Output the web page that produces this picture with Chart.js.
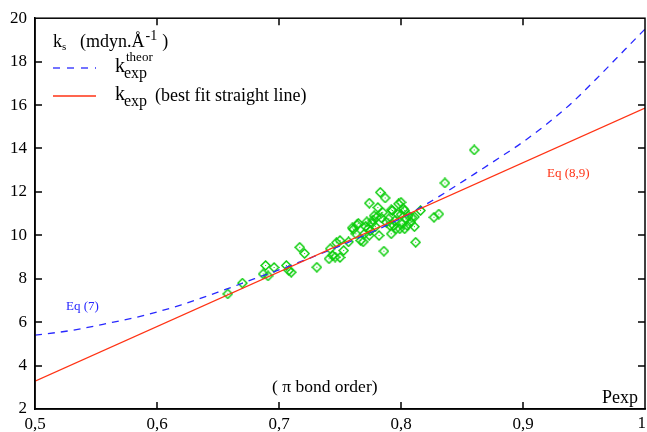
<!DOCTYPE html>
<html>
<head>
<meta charset="utf-8">
<script src="https://cdn.jsdelivr.net/npm/chart.js@4.4.1/dist/chart.umd.min.js"></script>
<style>
html, body { margin: 0; padding: 0; background: #fff; }
#wrap { width: 647px; height: 432px; }
</style>
</head>
<body>
<div id="wrap"><canvas id="chart" width="647" height="432"></canvas></div>
<script>
// experimental points: pi bond order (Pexp) vs force constant ks
const expP = [0.658, 0.670, 0.687, 0.689, 0.691, 0.696, 0.706, 0.708, 0.710, 0.717,
              0.721, 0.731, 0.741, 0.742, 0.744, 0.746, 0.747, 0.750, 0.750, 0.753,
              0.757, 0.760, 0.761, 0.763, 0.764, 0.765, 0.767, 0.769, 0.770, 0.771,
              0.772, 0.773, 0.774, 0.774, 0.775, 0.776, 0.777, 0.778, 0.779, 0.780,
              0.781, 0.782, 0.783, 0.784, 0.785, 0.786, 0.787, 0.788, 0.790, 0.791,
              0.792, 0.792, 0.793, 0.794, 0.795, 0.796, 0.797, 0.798, 0.799, 0.800,
              0.800, 0.801, 0.802, 0.803, 0.803, 0.804, 0.805, 0.806, 0.808, 0.809,
              0.811, 0.811, 0.812, 0.816, 0.827, 0.831, 0.836, 0.860];
const expK = [7.30, 7.80, 8.22, 8.61, 8.13, 8.52, 8.61, 8.38, 8.30, 9.45,
              9.16, 8.53, 8.92, 9.38, 9.07, 9.00, 9.66, 9.76, 8.98, 9.30,
              9.70, 10.34, 10.28, 10.07, 10.48, 10.55, 9.76, 9.70, 10.07, 10.40,
              10.62, 10.30, 11.48, 10.00, 10.22, 10.55, 10.70, 10.90, 10.40, 10.83,
              11.28, 9.99, 11.98, 10.80, 11.06, 9.27, 11.72, 10.60, 10.76, 10.45,
              10.07, 11.17, 11.14, 10.45, 10.68, 10.30, 10.99, 11.45, 10.30, 11.52,
              10.95, 10.53, 11.22, 10.30, 11.14, 10.75, 10.45, 10.90, 10.60, 10.83,
              10.85, 10.40, 9.68, 11.14, 10.83, 10.98, 12.41, 13.93];

// theoretical curve, Eq (7)
const theorP = [0.50, 0.53, 0.56, 0.59, 0.62, 0.65, 0.68, 0.71, 0.74, 0.77,
                0.80, 0.83, 0.86, 0.88, 0.90, 0.92, 0.94, 0.96, 0.98, 1.00];
const theorK = [5.40, 5.62, 5.95, 6.32, 6.80, 7.38, 8.00, 8.62, 9.28, 10.00,
                10.78, 11.75, 12.82, 13.55, 14.30, 15.15, 16.10, 17.20, 18.35, 19.50];

// best fit straight line, Eq (8,9)
const fitP = [0.5, 1.0];
const fitK = [3.28, 15.86];

const xTicks = [0.5, 0.6, 0.7, 0.8, 0.9, 1.0];
const yTicks = [2, 4, 6, 8, 10, 12, 14, 16, 18, 20];

const SERIF = '"Liberation Serif", "DejaVu Serif", serif';
const BLUE = 'rgb(40, 40, 255)';
const RED = 'rgb(255, 50, 20)';
const GREEN = 'rgb(10, 205, 10)';

const toXY = (xs, ys) => xs.map((x, i) => ({ x: x, y: ys[i] }));

const fmtX = v => v === 1 ? '1' : v.toFixed(1).replace('.', ',');

// open diamond with a dot in the middle
function diamond() {
    const c = document.createElement('canvas');
    c.width = 11; c.height = 11;
    const g = c.getContext('2d');
    g.strokeStyle = GREEN;
    g.lineWidth = 1.5;
    g.beginPath();
    g.moveTo(5.5, 1.0); g.lineTo(10.0, 5.5); g.lineTo(5.5, 10.0); g.lineTo(1.0, 5.5);
    g.closePath();
    g.stroke();
    g.fillStyle = GREEN;
    g.fillRect(5, 5, 1, 1);
    return c;
}

function txt(ctx, s, x, y, size, color) {
    ctx.font = size + 'px ' + SERIF;
    ctx.fillStyle = color || '#000';
    ctx.fillText(s, x, y);
    return x + ctx.measureText(s).width;
}

// box + inward tick marks on all four sides
const framePlugin = {
    id: 'frame',
    afterDraw(chart) {
        const { ctx, chartArea: a, scales } = chart;
        ctx.save();
        ctx.strokeStyle = '#000';
        ctx.lineWidth = 1.5;
        ctx.strokeRect(a.left, a.top, a.right - a.left, a.bottom - a.top);
        const len = 7;
        ctx.beginPath();
        xTicks.slice(1, -1).forEach(v => {
            const px = Math.round(scales.x.getPixelForValue(v));
            ctx.moveTo(px, a.bottom); ctx.lineTo(px, a.bottom - len);
            ctx.moveTo(px, a.top); ctx.lineTo(px, a.top + len);
        });
        yTicks.slice(1, -1).forEach(v => {
            const py = Math.round(scales.y.getPixelForValue(v));
            ctx.moveTo(a.left, py); ctx.lineTo(a.left + len, py);
            ctx.moveTo(a.right, py); ctx.lineTo(a.right - len, py);
        });
        ctx.stroke();

        // last x label sits flush with the right edge
        const last = xTicks[xTicks.length - 1];
        ctx.font = '17px ' + SERIF;
        ctx.fillStyle = '#000';
        ctx.textAlign = 'right';
        ctx.textBaseline = 'middle';
        ctx.fillText(fmtX(last), scales.x.getPixelForValue(last) + 1, 424);
        ctx.restore();
    }
};

// legend block and the labels written on the plot
const textPlugin = {
    id: 'texts',
    afterDraw(chart) {
        const ctx = chart.ctx;
        ctx.save();
        ctx.textBaseline = 'alphabetic';
        ctx.textAlign = 'left';

        // ks (mdyn.Å-1 )
        let x = txt(ctx, 'k', 53, 47, 18);
        txt(ctx, 's', x, 50, 11);
        x = txt(ctx, '(mdyn.Å', 80, 47, 18);
        x = txt(ctx, '-1', x + 1, 40, 14);
        txt(ctx, ')', x + 5, 47, 18);

        // theoretical
        ctx.strokeStyle = BLUE;
        ctx.lineWidth = 1.3;
        ctx.setLineDash([7, 7]);
        ctx.beginPath(); ctx.moveTo(53, 68); ctx.lineTo(96, 68); ctx.stroke();
        ctx.setLineDash([]);
        x = txt(ctx, 'k', 115, 72, 20);
        txt(ctx, 'exp', x - 1, 78, 16);
        txt(ctx, 'theor', x + 1, 61, 13);

        // best fit
        ctx.strokeStyle = RED;
        ctx.beginPath(); ctx.moveTo(53, 96); ctx.lineTo(96, 96); ctx.stroke();
        x = txt(ctx, 'k', 115, 100, 20);
        txt(ctx, 'exp', x - 1, 106, 16);
        txt(ctx, '(best fit straight line)', 155, 101, 18);

        txt(ctx, 'Eq (7)', 66, 310, 13, BLUE);
        txt(ctx, 'Eq (8,9)', 547, 177, 13, RED);
        txt(ctx, '( \u03c0 bond order)', 272, 392, 17.5);
        txt(ctx, 'Pexp', 602, 403, 18);
        ctx.restore();
    }
};

const tickFont = { family: SERIF, size: 17 };

new Chart(document.getElementById('chart').getContext('2d'), {
    type: 'scatter',
    data: {
        datasets: [
            {
                label: 'fit',
                data: toXY(fitP, fitK),
                showLine: true,
                borderColor: RED,
                borderWidth: 1.3,
                pointRadius: 0
            },
            {
                label: 'theor',
                data: toXY(theorP, theorK),
                showLine: true,
                borderColor: BLUE,
                borderWidth: 1.3,
                borderDash: [7, 6],
                cubicInterpolationMode: 'monotone',
                pointRadius: 0
            },
            {
                label: 'exp',
                data: toXY(expP, expK),
                pointStyle: diamond(),
                pointRadius: 5
            }
        ]
    },
    options: {
        responsive: false,
        animation: false,
        events: [],
        layout: {
            autoPadding: false,
            padding: { top: 17, right: 2, left: 0, bottom: 0 }
        },
        plugins: {
            legend: { display: false },
            tooltip: { enabled: false }
        },
        scales: {
            x: {
                type: 'linear',
                min: 0.5,
                max: 1,
                afterBuildTicks: s => { s.ticks = xTicks.map(v => ({ value: v })); },
                afterFit: s => { s.height = 23; },
                ticks: {
                    font: tickFont,
                    color: '#000',
                    padding: -3,
                    maxRotation: 0,
                    autoSkip: false,
                    // the last one is drawn by the frame plugin
                    callback: v => v === 1 ? '' : fmtX(v)
                },
                grid: { display: false },
                border: { color: '#000', width: 1.5 }
            },
            y: {
                type: 'linear',
                min: 2,
                max: 20,
                afterBuildTicks: s => { s.ticks = yTicks.map(v => ({ value: v })); },
                afterFit: s => { s.width = 35; },
                ticks: {
                    font: tickFont,
                    color: '#000',
                    padding: 8,
                    autoSkip: false
                },
                grid: { display: false, tickLength: 0 },
                border: { color: '#000', width: 1.5 }
            }
        }
    },
    plugins: [framePlugin, textPlugin]
});
</script>
</body>
</html>
